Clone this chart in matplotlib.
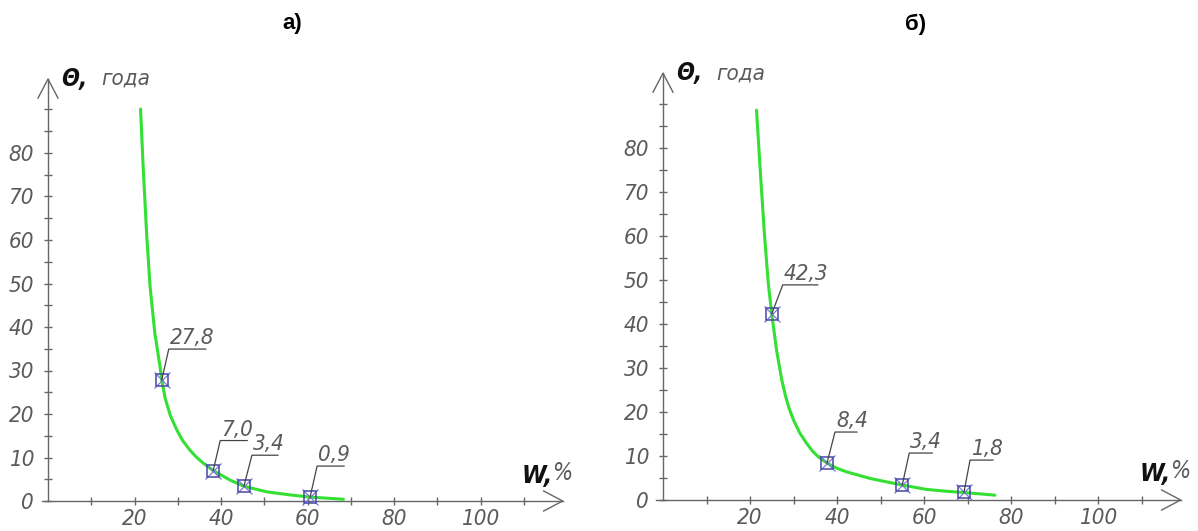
import numpy as np
import matplotlib.pyplot as plt
from matplotlib.lines import Line2D
from matplotlib.transforms import ScaledTranslation

plt.rcParams['font.family'] = ['DejaVu Sans']
plt.rcParams['font.stretch'] = 'condensed'
plt.rcParams['font.style'] = 'italic'

# а) кривая и точки
w_a = [21.4, 22.0, 22.8, 23.6, 24.7, 25.9, 26.3, 27.1, 28.3, 29.8, 31.2, 32.8, 34.3, 35.9, 38.2, 42.1, 45.3, 50.6, 56.0, 60.6, 68.3]
t_a = [90.1, 76.9, 61.5, 49.3, 38.6, 30.9, 27.8, 23.6, 19.6, 16.3, 13.8, 11.7, 10.1, 8.7, 7.0, 4.8, 3.4, 2.1, 1.4, 0.9, 0.4]
pts_w_a = [26.3, 38.2, 45.3, 60.6]
pts_t_a = [27.8, 7.0, 3.4, 0.9]
lab_a = ['27,8', '7,0', '3,4', '0,9']

# б) кривая и точки
w_b = [21.5, 22.3, 23.3, 24.2, 25.0, 26.1, 27.3, 28.2, 29.0, 30.0, 31.4, 33.0, 34.3, 35.7, 37.7, 40.0, 42.2, 47.6, 51.5, 55.0, 60.6, 65.0, 69.2, 76.3]
t_b = [88.6, 75.8, 60.6, 49.3, 42.3, 34.1, 27.3, 23.5, 20.8, 18.2, 15.3, 12.9, 11.2, 9.8, 8.4, 7.2, 6.4, 4.9, 4.1, 3.4, 2.4, 2.0, 1.7, 1.1]
pts_w_b = [25.0, 37.7, 55.0, 69.2]
pts_t_b = [42.3, 8.4, 3.4, 1.8]
lab_b = ['42,3', '8,4', '3,4', '1,8']

xticks = [20, 40, 60, 80, 100]
xminor = [10, 30, 50, 70, 90, 110]
yticks = [0, 10, 20, 30, 40, 50, 60, 70, 80]
yminor = [5, 15, 25, 35, 45, 55, 65, 75, 85, 90]

grey = '#666666'
txt = '#5a5a5a'
green = '#33e033'
navy = '#4848a8'

fig = plt.figure(figsize=(11.98, 5.31), dpi=100)


def draw_panel(rect, title, title_x, w, t, pw, pt, labels, leaders):
    ax = fig.add_axes(rect)
    ax.set_xlim(0, 120)
    ax.set_ylim(0, 100)
    for s in ax.spines.values():
        s.set_visible(False)
    ax.set_xticks(xticks)
    ax.set_xticks(xminor, minor=True)
    ax.set_yticks(yticks)
    ax.set_yticks(yminor, minor=True)
    ax.tick_params(which='both', direction='inout', length=6, width=1, color=grey,
                   labelsize=16, labelcolor=txt)
    ax.tick_params(axis='x', pad=3)
    ax.tick_params(axis='y', pad=7)

    # оси со стрелками
    ax.plot([-1.5, 119], [0, 0], color=grey, lw=1, clip_on=False)
    ax.plot([0, 0], [0, 97], color=grey, lw=1, clip_on=False)
    ax.add_artist(Line2D([-19, 0, -19], [10, 0, -10], color=grey, lw=1, clip_on=False,
                         transform=ScaledTranslation(119, 0, ax.transData)))
    ax.add_artist(Line2D([-10, 0, 10], [-19, 0, -19], color=grey, lw=1, clip_on=False,
                         transform=ScaledTranslation(0, 97, ax.transData)))

    ax.text(3.0, 97, 'Θ,', fontsize=17, fontweight='bold', color='#111111',
            va='center', ha='left', clip_on=False)
    ax.text(12.3, 97, 'года', fontsize=16, color=txt, va='center', ha='left', clip_on=False)
    ax.text(109.5, 5.8, 'W,', fontsize=18, fontweight='bold', color='#111111',
            va='center', ha='left', clip_on=False)
    ax.text(116.6, 6.5, '%', fontsize=17, color=txt, va='center', ha='left', clip_on=False)

    ax.plot(w, t, color=green, lw=2.2, solid_capstyle='round', solid_joinstyle='round',
            clip_on=False)
    ax.plot(pw, pt, ls='none', marker='x', ms=12, mew=0.9, color='#7a7ad0', clip_on=False)
    ax.plot(pw, pt, ls='none', marker='s', ms=9, mew=1.1, mfc='none', mec=navy, clip_on=False)

    for x, y, lab, (dx, dy, ln) in zip(pw, pt, labels, leaders):
        ax.add_artist(Line2D([0, dx, dx + ln], [0, dy, dy], color='#444444', lw=0.9,
                             clip_on=False,
                             transform=ScaledTranslation(x, y, ax.transData)))
        ax.annotate(lab, xy=(x, y), xytext=(dx + 1, dy + 1), textcoords='offset pixels',
                    fontsize=16, color=txt, ha='left', va='bottom')

    fig.text(title_x, 0.955, title, fontsize=16, fontweight='bold', fontstyle='normal',
             fontstretch='normal', family='Liberation Sans', ha='center', va='center',
             color='black')
    return ax


lead_a = [(7, 31, 37), (7, 30, 27), (8, 31, 26), (7, 31, 27)]
lead_b = [(11, 29, 35), (8, 31, 22), (7, 32, 23), (6, 32, 23)]

draw_panel([48 / 1198, 30 / 531, 519 / 1198, 435 / 531], 'а)', 292 / 1198,
           w_a, t_a, pts_w_a, pts_t_a, lab_a, lead_a)
draw_panel([663 / 1198, 31 / 531, 522 / 1198, 440 / 531], 'б)', 916 / 1198,
           w_b, t_b, pts_w_b, pts_t_b, lab_b, lead_b)

fig.savefig('out.png', dpi=100)
